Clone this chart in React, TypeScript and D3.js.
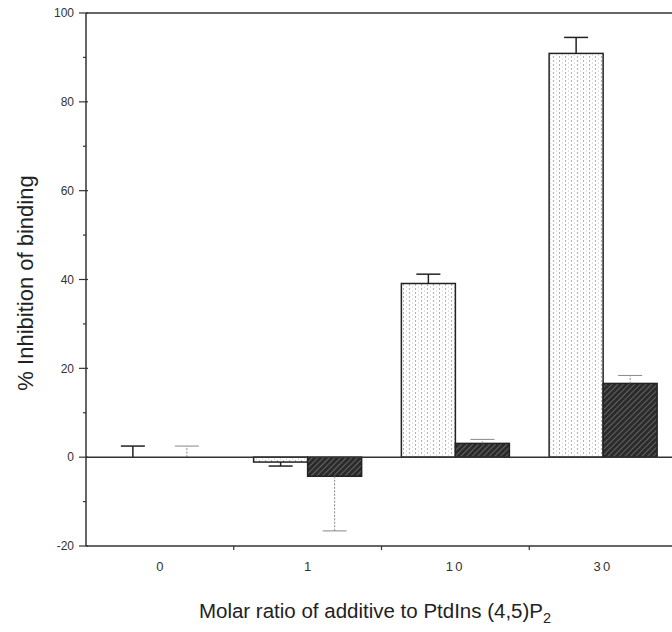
import * as d3 from "d3";

// ratio categories on the x axis
const categories = ["0", "1", "10", "30"];
const series = ["lipid", "control"];
// mean % inhibition per category
const lipidValues = [0, -1.1, 39.1, 90.9];
const controlValues = [0, -4.3, 3.1, 16.6];
// top/bottom end of the error bar
const lipidErr = [2.5, -2.0, 41.2, 94.5];
const controlErr = [2.5, -16.6, 4.0, 18.4];
const yMajor = [-20, 0, 20, 40, 60, 80, 100];
const yMinor = [-10, 10, 30, 50, 70, 90];

const width = 672;
const height = 632;
const left = 86;
const right = 677;
const top = 13;
const bottom = 546;

export default function App() {
    const x = d3.scaleBand<string>().domain(categories).range([left, right]);
    const bw = x.bandwidth();
    const inner = d3.scaleBand<string>().domain(series).range([bw / 2 - 54, bw / 2 + 54]);
    const y = d3.scaleLinear().domain([-20, 100]).range([bottom, top]);

    const bars = categories.flatMap((c, i) => [
        {cat: c, s: "lipid", v: lipidValues[i], e: lipidErr[i]},
        {cat: c, s: "control", v: controlValues[i], e: controlErr[i]},
    ]);

    const font = "'Liberation Sans', Arial, sans-serif";

    return <svg width={width} height={height} style={{position: "absolute", left: 0, top: 0, background: "#fff"}} fontFamily={font}>
        <defs>
            <pattern id="stipple" width="6" height="4" patternUnits="userSpaceOnUse">
                <rect width="6" height="4" fill="#fff"/>
                <circle cx="1.5" cy="1" r="0.7" fill="#888"/>
                <circle cx="4.5" cy="3" r="0.6" fill="#bbb"/>
            </pattern>
            <pattern id="hatch" width="4" height="4" patternUnits="userSpaceOnUse" patternTransform="rotate(45)">
                <rect width="4" height="4" fill="#2b2b2b"/>
                <line x1="0" y1="0" x2="0" y2="4" stroke="#9a9a9a" strokeWidth="1"/>
            </pattern>
        </defs>

        {/* frame */}
        <line x1={left} x2={width} y1={top} y2={top} stroke="#333" strokeWidth={1.5}/>
        <line x1={left} x2={width} y1={bottom} y2={bottom} stroke="#333" strokeWidth={1.5}/>
        <line x1={left} x2={left} y1={top} y2={bottom} stroke="#333" strokeWidth={1.5}/>

        {/* y ticks */}
        {yMajor.map(t => (
            <g key={t}>
                <line x1={left - 7} x2={left + 2} y1={y(t)} y2={y(t)} stroke="#333" strokeWidth={1.2}/>
                <text x={left - 12} y={y(t)} dy="0.35em" textAnchor="end" fontSize={12} fill="#333">{t}</text>
            </g>
        ))}
        {yMinor.map(t => (
            <line key={t} x1={left - 3} x2={left} y1={y(t)} y2={y(t)} stroke="#333" strokeWidth={1.2}/>
        ))}

        {/* x ticks at category boundaries */}
        {categories.slice(1).map(c => (
            <line key={c} x1={x(c)!} x2={x(c)!} y1={bottom} y2={bottom + 4} stroke="#333" strokeWidth={1.2}/>
        ))}
        {categories.map(c => (
            <text key={c} x={x(c)! + bw / 2} y={bottom + 25} textAnchor="middle" fontSize={13} fill="#333" letterSpacing={c.length > 1 ? 2.5 : 0}>{c}</text>
        ))}

        {/* bars */}
        {bars.map((b, i) => {
            const bx = x(b.cat)! + inner(b.s)!;
            const cx = bx + inner.bandwidth() / 2;
            const y0 = y(0);
            const yv = y(b.v);
            const ye = y(b.e);
            const isLipid = b.s === "lipid";
            return <g key={i}>
                {b.v !== 0 &&
                    <rect x={bx} width={inner.bandwidth()} y={Math.min(y0, yv)} height={Math.abs(yv - y0)}
                          fill={isLipid ? "url(#stipple)" : "url(#hatch)"} stroke="#222" strokeWidth={1.5}/>}
                <line x1={cx} x2={cx} y1={yv} y2={ye} stroke={isLipid ? "#222" : "#888"} strokeWidth={isLipid ? 1.5 : 1}
                      strokeDasharray={isLipid ? undefined : "2,1.5"}/>
                <line x1={cx - 12} x2={cx + 12} y1={ye} y2={ye} stroke={isLipid ? "#222" : "#888"} strokeWidth={isLipid ? 1.5 : 1}/>
            </g>;
        })}

        {/* zero line */}
        <line x1={left} x2={width} y1={y(0)} y2={y(0)} stroke="#333" strokeWidth={1.5}/>

        {/* axis titles */}
        <text transform={`translate(33,283) rotate(-90)`} textAnchor="middle" fontSize={22} fill="#222">% Inhibition of binding</text>
        <text x={375} y={618} textAnchor="middle" fontSize={20.5} fill="#222">
            Molar ratio of additive to PtdIns (4,5)P<tspan fontSize={14.5} dy={5}>2</tspan>
        </text>
    </svg>;
}
